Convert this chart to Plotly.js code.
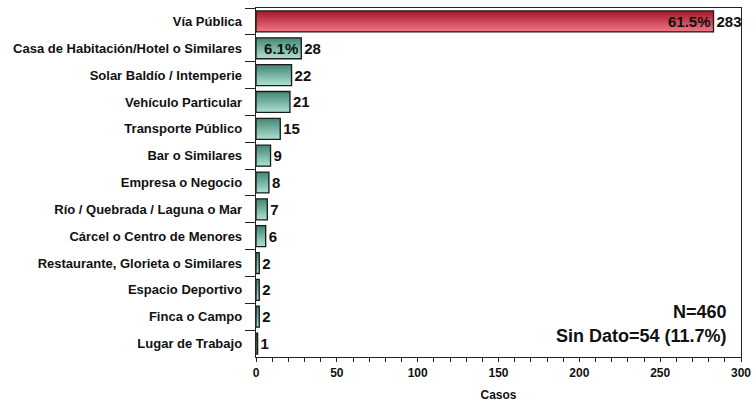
<!DOCTYPE html>
<html><head><meta charset="utf-8">
<script src="https://cdn.plot.ly/plotly-3.0.1.min.js"></script>
<style>html,body{margin:0;padding:0;background:#fff;}#chart{width:756px;height:404px;}</style>
</head><body><div id="chart"></div>
<script>
const categories = ["Vía Pública","Casa de Habitación/Hotel o Similares","Solar Baldío / Intemperie","Vehículo Particular","Transporte Público","Bar o Similares","Empresa o Negocio","Río / Quebrada / Laguna o Mar","Cárcel o Centro de Menores","Restaurante, Glorieta o Similares","Espacio Deportivo","Finca o Campo","Lugar de Trabajo"];
const casos = [283,28,22,21,15,9,8,7,6,2,2,2,1];
const porcentajes = ["61.5%","6.1%","","","","","","","","","","",""];
const totalN = 460;
const sinDato = 54;
const sinDatoPct = "11.7%";

const FONT = "Liberation Sans, Arial, sans-serif";
const NARROW = "Liberation Sans Narrow, Arial Narrow, Liberation Sans, sans-serif";
const barW = 0.78, nSlices = 12;

function lerp(a,b,t){return a.map((v,i)=>Math.round(v+(b[i]-v)*t));}
const redTop=[168,26,46], redBot=[236,118,132];
const tealTop=[70,138,120], tealBot=[170,222,206];

const traces = [];
for (let s=0; s<nSlices; s++){
  const t = s/(nSlices-1);
  const cr = lerp(redTop,redBot,t), ct = lerp(tealTop,tealBot,t);
  const h = barW/nSlices;
  traces.push({
    type:'bar', orientation:'h', y:categories, x:casos,
    width: barW - s*h, offset: -barW/2 + s*h,
    marker:{color: casos.map((v,i)=> i===0 ? `rgb(${cr})` : `rgb(${ct})`), line:{width:0}},
    hoverinfo:'skip', showlegend:false
  });
}
// outline + value labels
traces.push({
  type:'bar', orientation:'h', y:categories, x:casos,
  width: barW, offset: -barW/2,
  marker:{color:'rgba(0,0,0,0)', line:{color:'#1a1a1a', width:1.3}},
  text: casos.map(String), textposition:'outside', cliponaxis:false,
  textfont:{family:NARROW, size:15, color:'#111', weight:700},
  hoverinfo:'skip', showlegend:false
});
// percentage labels inside
traces.push({
  type:'bar', orientation:'h', y:categories, x:casos,
  width: barW, offset: -barW/2,
  marker:{color:'rgba(0,0,0,0)', line:{width:0}},
  text: porcentajes, textposition:'inside', insidetextanchor:'end', constraintext:'none',
  textfont:{family:NARROW, size:15, color:'#111', weight:700},
  hoverinfo:'skip', showlegend:false
});

const layout = {
  width:756, height:404,
  margin:{l:256, r:15, t:8, b:47},
  barmode:'overlay',
  paper_bgcolor:'#fff', plot_bgcolor:'#fff',
  font:{family:FONT, color:'#111'},
  xaxis:{
    range:[0,300], dtick:50, tick0:0, ticks:'outside', ticklen:4, tickcolor:'#222',
    minor:{dtick:10, ticks:'outside', ticklen:4, tickcolor:'#222'},
    showline:true, linecolor:'#222', linewidth:1.3, mirror:true,
    showgrid:false, zeroline:false,
    tickfont:{family:FONT, size:12, color:'#111', weight:700},
    title:{text:'Casos', font:{family:FONT, size:12, color:'#111', weight:700}, standoff:12}
  },
  yaxis:{
    type:'category', autorange:'reversed', tickson:'boundaries',
    ticks:'outside', ticklen:10, tickcolor:'#222', ticklabelstandoff:10,
    showline:true, linecolor:'#222', linewidth:1.3, mirror:true,
    showgrid:false, zeroline:false,
    tickfont:{family:FONT, size:13, color:'#111', weight:700}
  },
  annotations:[
    {xref:'paper', yref:'paper', x:0.975, y:0.129, xanchor:'right', yanchor:'middle', showarrow:false,
     text:'N='+totalN, font:{family:FONT, size:18, color:'#111', weight:700}},
    {xref:'paper', yref:'paper', x:0.975, y:0.060, xanchor:'right', yanchor:'middle', showarrow:false,
     text:'Sin Dato='+sinDato+' ('+sinDatoPct+')', font:{family:FONT, size:18, color:'#111', weight:700}}
  ]
};
Plotly.newPlot('chart', traces, layout, {displayModeBar:false, staticPlot:true});
</script></body></html>
